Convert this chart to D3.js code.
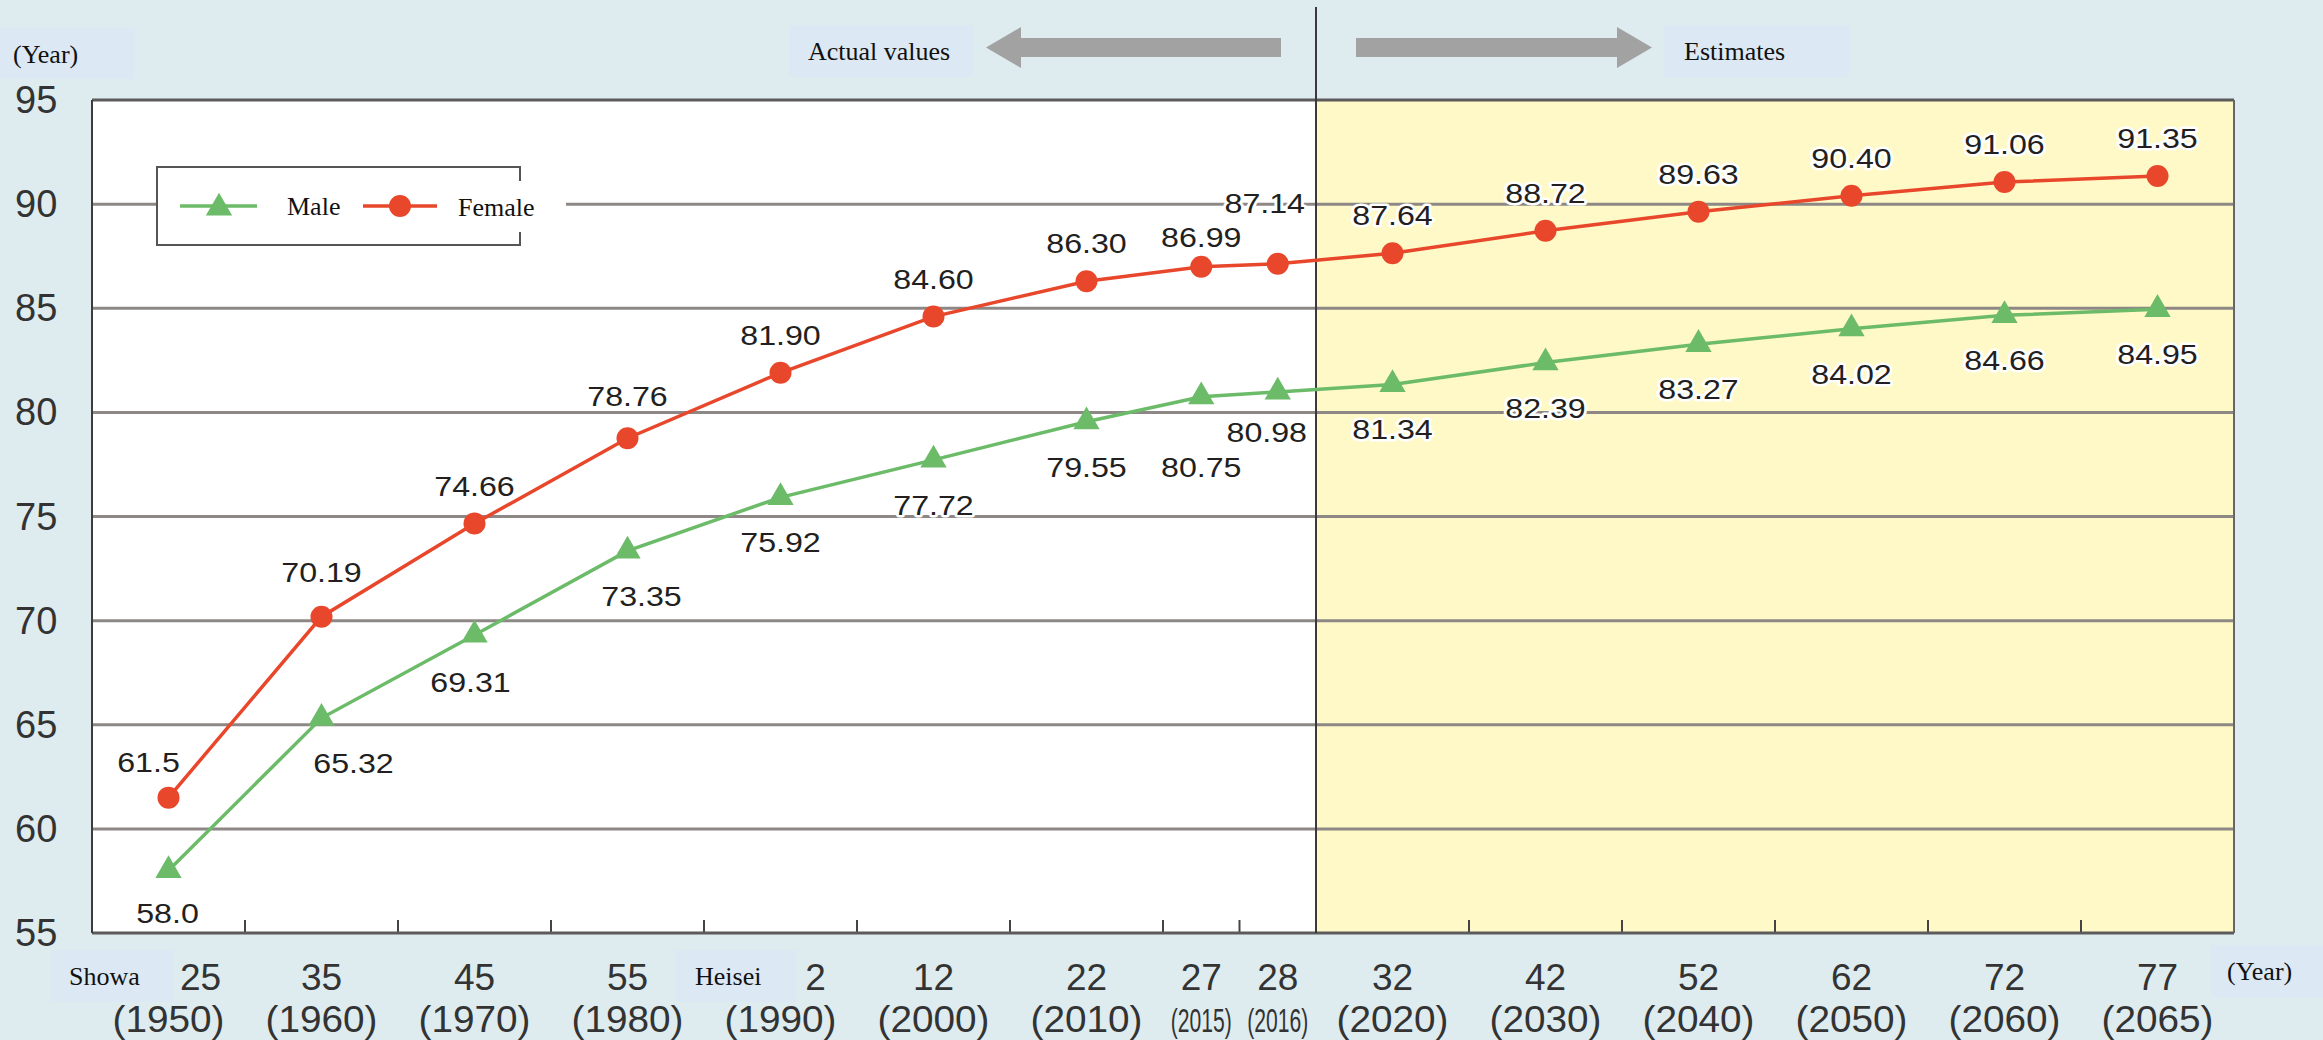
<!DOCTYPE html>
<html>
<head>
<meta charset="utf-8">
<script src="https://cdn.jsdelivr.net/npm/d3@7"></script>
<style>
  body { margin: 0; background: #deecf0; }
  svg { display: block; }
</style>
</head>
<body>
<div id="chart"></div>
<script>
// data
const eraYears = ["25", "35", "45", "55", "2", "12", "22", "27", "28", "32", "42", "52", "62", "72", "77"];
const westernYears = ["(1950)", "(1960)", "(1970)", "(1980)", "(1990)", "(2000)", "(2010)", "(2015)", "(2016)", "(2020)", "(2030)", "(2040)", "(2050)", "(2060)", "(2065)"];
const maleValues = [58.0, 65.32, 69.31, 73.35, 75.92, 77.72, 79.55, 80.75, 80.98, 81.34, 82.39, 83.27, 84.02, 84.66, 84.95];
const femaleValues = [61.5, 70.19, 74.66, 78.76, 81.90, 84.60, 86.30, 86.99, 87.14, 87.64, 88.72, 89.63, 90.40, 91.06, 91.35];
const maleLabels = ["58.0", "65.32", "69.31", "73.35", "75.92", "77.72", "79.55", "80.75", "80.98", "81.34", "82.39", "83.27", "84.02", "84.66", "84.95"];
const femaleLabels = ["61.5", "70.19", "74.66", "78.76", "81.90", "84.60", "86.30", "86.99", "87.14", "87.64", "88.72", "89.63", "90.40", "91.06", "91.35"];
const yTicks = [55, 60, 65, 70, 75, 80, 85, 90, 95];

// layout: 2015 and 2016 share one decade slot
const slotSpan = [1, 1, 1, 1, 1, 1, 1, 0.5, 0.5, 1, 1, 1, 1, 1, 1];
const firstEstimate = 9; // index of 2020

const W = 2323, H = 1040;
const plot = { left: 92, right: 2234, top: 100, bottom: 933 };

const red = "#e8472b";
const green = "#6cbb69";
const grid = "#8d8886";
const ink = "#333";

const cum = [0];
slotSpan.forEach((s, i) => cum.push(cum[i] + s));
const total = cum[cum.length - 1];

const x = d3.scaleLinear().domain([0, total]).range([plot.left, plot.right]);
const y = d3.scaleLinear().domain([55, 95]).range([plot.bottom, plot.top]);
const cx = (i) => x(cum[i] + slotSpan[i] / 2);
const divX = x(cum[firstEstimate]);

const svg = d3.select("#chart").append("svg").attr("width", W).attr("height", H);

// plot background: white for actual values, yellow for estimates
svg.append("rect")
  .attr("x", plot.left).attr("y", plot.top)
  .attr("width", divX - plot.left).attr("height", plot.bottom - plot.top)
  .attr("fill", "#fff");
svg.append("rect")
  .attr("x", divX).attr("y", plot.top)
  .attr("width", plot.right - divX).attr("height", plot.bottom - plot.top)
  .attr("fill", "#fef9c6");

// horizontal grid
svg.selectAll("line.grid")
  .data(yTicks.filter((t) => t > 55 && t < 95))
  .enter()
  .append("line")
  .attr("class", "grid")
  .attr("x1", plot.left).attr("x2", plot.right)
  .attr("y1", (d) => y(d)).attr("y2", (d) => y(d))
  .attr("stroke", grid)
  .attr("stroke-width", 3);

// small ticks on bottom edge at slot boundaries
svg.selectAll("line.tick")
  .data(cum.slice(1, -1))
  .enter()
  .append("line")
  .attr("x1", (d) => x(d)).attr("x2", (d) => x(d))
  .attr("y1", plot.bottom).attr("y2", plot.bottom - 13)
  .attr("stroke", "#444")
  .attr("stroke-width", 2);

// frame
svg.append("line").attr("x1", plot.left).attr("x2", plot.right).attr("y1", plot.top).attr("y2", plot.top)
  .attr("stroke", "#5c5a5a").attr("stroke-width", 3);
svg.append("line").attr("x1", plot.left).attr("x2", plot.right).attr("y1", plot.bottom).attr("y2", plot.bottom)
  .attr("stroke", "#5c5a5a").attr("stroke-width", 3);
svg.append("line").attr("x1", plot.left).attr("x2", plot.left).attr("y1", plot.top).attr("y2", plot.bottom)
  .attr("stroke", "#3c3c3c").attr("stroke-width", 2);
svg.append("line").attr("x1", plot.right).attr("x2", plot.right).attr("y1", plot.top).attr("y2", plot.bottom)
  .attr("stroke", "#666").attr("stroke-width", 2);

// divider between actual values and estimates
svg.append("line").attr("x1", divX).attr("x2", divX).attr("y1", 7).attr("y2", plot.bottom)
  .attr("stroke", "#3a3a3a").attr("stroke-width", 2);

// y axis labels
svg.selectAll("text.ylab")
  .data(yTicks)
  .enter()
  .append("text")
  .attr("x", 15)
  .attr("y", (d) => y(d) + 13)
  .attr("font-family", "Liberation Sans, Arial, sans-serif")
  .attr("font-size", 38)
  .attr("fill", ink)
  .text((d) => d);

// x axis labels, two rows
const tickNudge = { 0: 32, 4: 35 };
svg.selectAll("text.era")
  .data(eraYears)
  .enter()
  .append("text")
  .attr("x", (d, i) => cx(i) + (tickNudge[i] || 0))
  .attr("y", 990)
  .attr("text-anchor", "middle")
  .attr("font-family", "Liberation Sans, Arial, sans-serif")
  .attr("font-size", 37)
  .attr("fill", ink)
  .text((d) => d);

// the two half-slot years are squeezed like in the original
svg.selectAll("text.west")
  .data(westernYears)
  .enter()
  .append("text")
  .attr("transform", (d, i) => (slotSpan[i] < 1
    ? `translate(${cx(i)},1032) scale(0.64,1)`
    : `translate(${cx(i)},1032)`))
  .attr("text-anchor", "middle")
  .attr("font-family", "Liberation Sans, Arial, sans-serif")
  .attr("font-size", (d, i) => (slotSpan[i] < 1 ? 33 : 36))
  .attr("fill", ink)
  .attr("textLength", (d, i) => (slotSpan[i] < 1 ? null : 112))
  .attr("lengthAdjust", "spacingAndGlyphs")
  .text((d) => d);

// boxed serif labels
function boxLabel(bx, by, bw, bh, tx, ty, txt) {
  svg.append("rect").attr("x", bx).attr("y", by).attr("width", bw).attr("height", bh).attr("fill", "#dce8f3");
  svg.append("text")
    .attr("x", tx).attr("y", ty)
    .attr("font-family", "Liberation Serif, Times New Roman, serif")
    .attr("font-size", 26)
    .attr("fill", "#111")
    .text(txt);
}
boxLabel(0, 28, 135, 51, 13, 63, "(Year)");
boxLabel(2211, 945, 112, 52, 2227, 980, "(Year)");
boxLabel(51, 950, 122, 52, 69, 985, "Showa");
boxLabel(676, 950, 120, 52, 695, 985, "Heisei");
boxLabel(789, 25, 184, 52, 808, 60, "Actual values");
boxLabel(1664, 25, 185, 52, 1684, 60, "Estimates");

// arrows
const arrowGrey = "#a2a2a2";
svg.append("polygon")
  .attr("points", [[divX - 35, 38], [divX - 295, 38], [divX - 295, 27], [divX - 330, 47.5], [divX - 295, 68], [divX - 295, 57], [divX - 35, 57]].join(" "))
  .attr("fill", arrowGrey);
svg.append("polygon")
  .attr("points", [[divX + 40, 38], [divX + 301, 38], [divX + 301, 27], [divX + 336, 47.5], [divX + 301, 68], [divX + 301, 57], [divX + 40, 57]].join(" "))
  .attr("fill", arrowGrey);

// lines
const line = (vals) => d3.line().x((d, i) => cx(i)).y((d) => y(d))(vals);

svg.append("path").attr("d", line(maleValues)).attr("fill", "none")
  .attr("stroke", green).attr("stroke-width", 3.5);
svg.append("path").attr("d", line(femaleValues)).attr("fill", "none")
  .attr("stroke", red).attr("stroke-width", 3.5);

const tri = d3.symbol().type(d3.symbolTriangle).size(300);
svg.selectAll("path.male")
  .data(maleValues)
  .enter()
  .append("path")
  .attr("d", tri)
  .attr("transform", (d, i) => `translate(${cx(i)},${y(d)})`)
  .attr("fill", green);

svg.selectAll("circle.female")
  .data(femaleValues)
  .enter()
  .append("circle")
  .attr("cx", (d, i) => cx(i))
  .attr("cy", (d) => y(d))
  .attr("r", 11)
  .attr("fill", red);

// value labels (white halo, slightly wide face)
const femaleNudge = { 0: [-20, 2], 1: [0, -7], 3: [0, -4], 7: [0, 8], 8: [-13, -23] };
const maleNudge = { 0: [-1, -3], 1: [32, 0], 2: [-4, 2], 3: [14, 0], 7: [0, 25], 8: [-11, -5] };

function valueLabels(vals, labels, off, nudge) {
  svg.append("g")
    .selectAll("text")
    .data(vals)
    .enter()
    .append("text")
    .attr("transform", (d, i) => {
      const n = nudge[i] || [0, 0];
      return `translate(${cx(i) + n[0]},${y(d) + off + n[1] + 10}) scale(1.15,1)`;
    })
    .attr("text-anchor", "middle")
    .attr("font-family", "Liberation Sans, Arial, sans-serif")
    .attr("font-size", 28)
    .attr("fill", "#231f20")
    .attr("stroke", "#fff")
    .attr("stroke-width", 5)
    .attr("stroke-linejoin", "round")
    .attr("paint-order", "stroke")
    .text((d, i) => labels[i]);
}
valueLabels(femaleValues, femaleLabels, -38, femaleNudge);
valueLabels(maleValues, maleLabels, 45, maleNudge);

// legend
svg.append("rect").attr("x", 157).attr("y", 167).attr("width", 363).attr("height", 78)
  .attr("fill", "#fff").attr("stroke", "#555").attr("stroke-width", 2);
svg.append("rect").attr("x", 158).attr("y", 181).attr("width", 408).attr("height", 51).attr("fill", "#fff");

const lg = svg.append("g");
lg.append("line").attr("x1", 180).attr("x2", 257).attr("y1", 206).attr("y2", 206)
  .attr("stroke", green).attr("stroke-width", 3.5);
lg.append("path").attr("d", tri).attr("transform", "translate(219,208)").attr("fill", green);
lg.append("text").attr("x", 287).attr("y", 215)
  .attr("font-family", "Liberation Serif, Times New Roman, serif").attr("font-size", 26).attr("fill", "#111")
  .text("Male");
lg.append("line").attr("x1", 363).attr("x2", 437).attr("y1", 206).attr("y2", 206)
  .attr("stroke", red).attr("stroke-width", 3.5);
lg.append("circle").attr("cx", 400).attr("cy", 206).attr("r", 11).attr("fill", red);
lg.append("text").attr("x", 458).attr("y", 216)
  .attr("font-family", "Liberation Serif, Times New Roman, serif").attr("font-size", 26).attr("fill", "#111")
  .text("Female");
</script>
</body>
</html>
